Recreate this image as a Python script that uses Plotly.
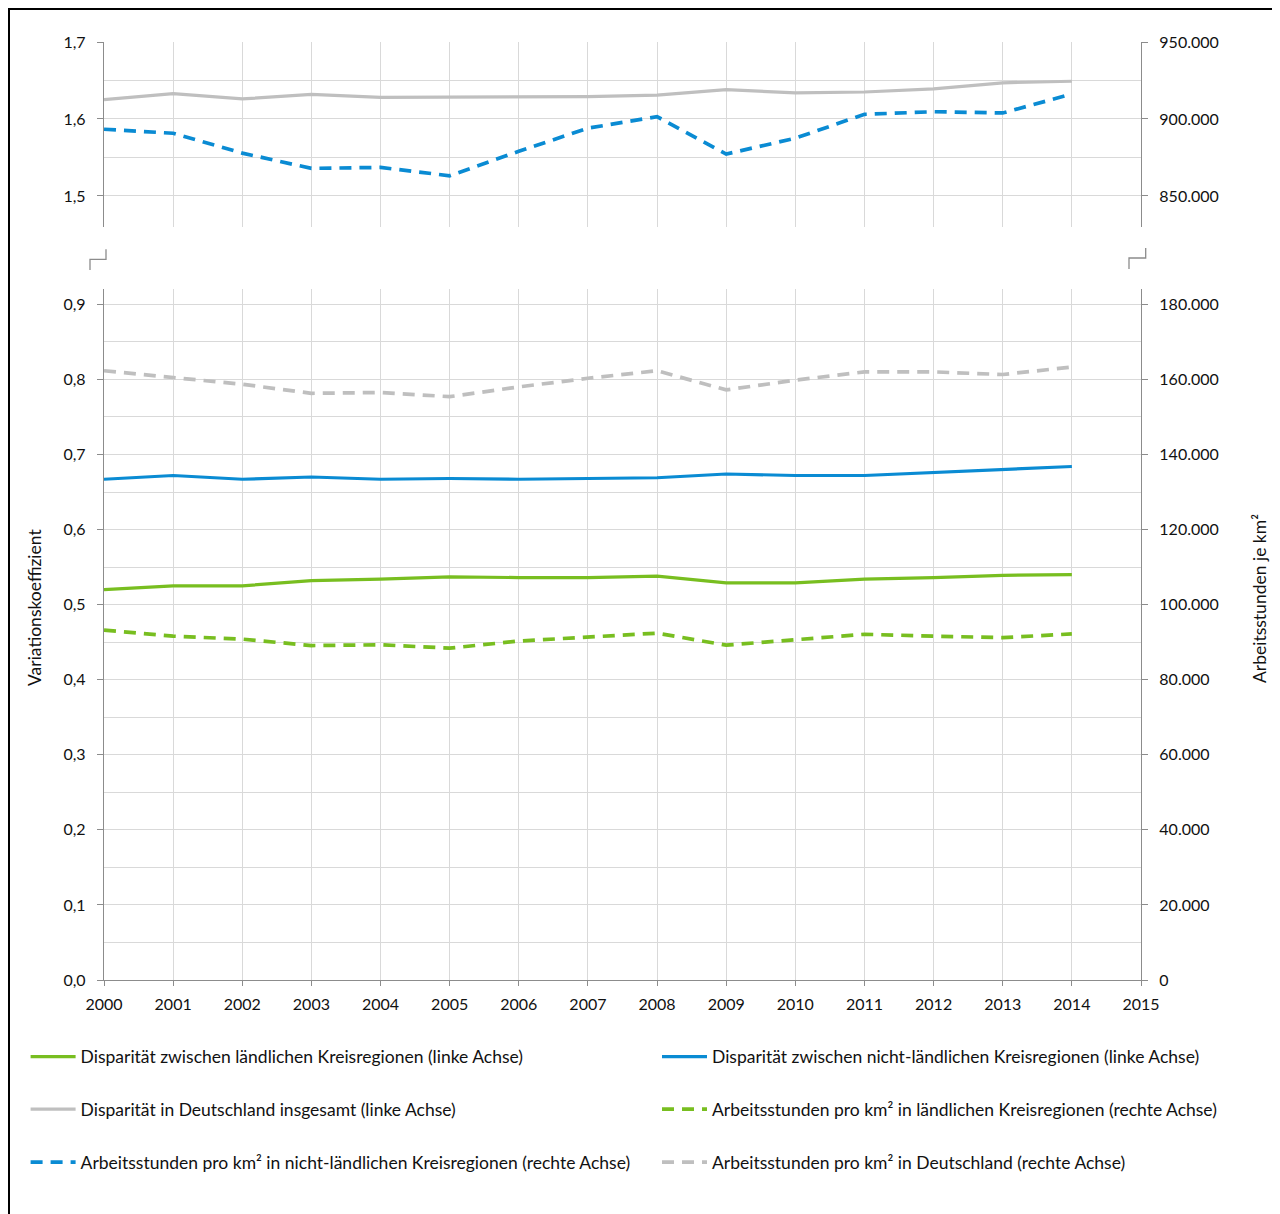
import plotly.graph_objects as go

# ---------------- data ----------------
years = [2000, 2001, 2002, 2003, 2004, 2005, 2006, 2007, 2008, 2009, 2010, 2011, 2012, 2013, 2014]

# left axis (Variationskoeffizient)
disp_laendlich = [0.520, 0.525, 0.525, 0.532, 0.534, 0.537, 0.536, 0.536, 0.538, 0.529, 0.529, 0.534, 0.536, 0.539, 0.540]
disp_nicht_laendlich = [0.667, 0.672, 0.667, 0.670, 0.667, 0.668, 0.667, 0.668, 0.669, 0.674, 0.672, 0.672, 0.676, 0.681, 0.684]
disp_deutschland = [1.625, 1.633, 1.626, 1.632, 1.628, 1.628, 1.628, 1.629, 1.631, 1.638, 1.634, 1.635, 1.639, 1.647, 1.649]

# right axis (Arbeitsstunden je km²)
std_laendlich = [93200, 91600, 90800, 89100, 89300, 88400, 90300, 91400, 92400, 89200, 90700, 92100, 91600, 91200, 92200]
std_nicht_laendlich = [893300, 890700, 877800, 867900, 868500, 863100, 879000, 894000, 901500, 877200, 887500, 903000, 904700, 903900, 916200]
std_deutschland = [162300, 160400, 158700, 156300, 156500, 155400, 158000, 160300, 162300, 157200, 159800, 162000, 162000, 161300, 163300]

names = [
    "Disparität zwischen ländlichen Kreisregionen (linke Achse)",
    "Disparität zwischen nicht-ländlichen Kreisregionen (linke Achse)",
    "Disparität in Deutschland insgesamt (linke Achse)",
    "Arbeitsstunden pro km² in ländlichen Kreisregionen (rechte Achse)",
    "Arbeitsstunden pro km² in nicht-ländlichen Kreisregionen (rechte Achse)",
    "Arbeitsstunden pro km² in Deutschland (rechte Achse)",
]

left_title = "Variationskoeffizient"
right_title = "Arbeitsstunden je km²"

# ---------------- layout geometry (page pixels) ----------------
OFF = 8                      # default body margin of the page
W, H = 1280 - OFF, 1214 - OFF
PL, PR, PT, PB = 104, 1141, 42, 980      # plot area in page pixels
ML, MR, MT, MB = PL - OFF, 1280 - PR, PT - OFF, 1214 - PB
PW = PR - PL
PH = PB - PT

GREEN = "#78BE20"
BLUE = "#0A8BD3"
GRAY = "#BFBFBF"
GRID = "#D9D9D9"
AXIS = "#8C8C8C"
TXT = "#111111"
FONT = "Lato, Calibri, Carlito, sans-serif"
DASH = "12px,8px"
TICKSIZE = 16
TEXTSIZE = 17.5


def px_x(x):
    return (x - PL) / PW


def px_y(y):
    return (PB - y) / PH


def cx(x):
    return (x - OFF) / W


def cy(y):
    return 1 - (y - OFF) / H


top_dom = [px_y(226.7), 1.0]
bot_dom = [0.0, px_y(289.3)]

fig = go.Figure()

fig.add_trace(go.Scatter(x=years, y=disp_laendlich, name=names[0], mode="lines",
                         line=dict(color=GREEN, width=3.2), xaxis="x", yaxis="y", legend="legend"))
fig.add_trace(go.Scatter(x=years, y=disp_nicht_laendlich, name=names[1], mode="lines",
                         line=dict(color=BLUE, width=3.2), xaxis="x", yaxis="y", legend="legend2"))
fig.add_trace(go.Scatter(x=years, y=disp_deutschland, name=names[2], mode="lines",
                         line=dict(color=GRAY, width=3.2), xaxis="x2", yaxis="y3", legend="legend3"))
fig.add_trace(go.Scatter(x=years, y=std_laendlich, name=names[3], mode="lines",
                         line=dict(color=GREEN, width=3.7, dash=DASH), xaxis="x", yaxis="y2", legend="legend4"))
fig.add_trace(go.Scatter(x=years, y=std_nicht_laendlich, name=names[4], mode="lines",
                         line=dict(color=BLUE, width=3.7, dash=DASH), xaxis="x2", yaxis="y4", legend="legend5"))
fig.add_trace(go.Scatter(x=years, y=std_deutschland, name=names[5], mode="lines",
                         line=dict(color=GRAY, width=3.7, dash=DASH), xaxis="x", yaxis="y2", legend="legend6"))

common_y = dict(showline=True, linecolor=AXIS, linewidth=1.3, ticks="outside", ticklen=6,
                tickcolor=AXIS, tickwidth=1.3, zeroline=False, ticklabelstandoff=8,
                tickfont=dict(family=FONT, size=TICKSIZE, color=TXT))


def leg(page_x, page_y):
    return dict(orientation="h", xref="container", yref="container", xanchor="left",
                yanchor="middle", x=cx(page_x), y=cy(page_y), itemwidth=45,
                bgcolor="rgba(0,0,0,0)", font=dict(family=FONT, size=TEXTSIZE, color=TXT))


COL1, COL2 = 25.6, 657
ROWS = [1056.7, 1109.3, 1162.3]

fig.update_layout(
    width=W, height=H,
    margin=dict(l=ML, r=MR, t=MT, b=MB, autoexpand=False),
    paper_bgcolor="white", plot_bgcolor="white",
    separators=",.",
    font=dict(family=FONT, size=TEXTSIZE, color=TXT),
    showlegend=True,
    xaxis=dict(domain=[0, 1], anchor="y", range=[2000, 2015], dtick=1, tick0=2000, tickformat="d",
               showgrid=True, gridcolor=GRID, gridwidth=1, showline=True, linecolor=AXIS,
               linewidth=1.3, ticks="outside", ticklen=5, tickcolor=AXIS, tickwidth=1.3,
               ticklabelstandoff=5, zeroline=False,
               tickfont=dict(family=FONT, size=TICKSIZE, color=TXT)),
    xaxis2=dict(domain=[0, 1], anchor="y3", range=[2000, 2015], dtick=1, tick0=2000,
                showgrid=True, gridcolor=GRID, gridwidth=1, showline=False, ticks="",
                showticklabels=False, zeroline=False, matches="x"),
    yaxis=dict(domain=bot_dom, anchor="x", range=[0, 0.92], dtick=0.1, tick0=0, tickformat=".1f",
               showgrid=True, gridcolor=GRID,
               minor=dict(dtick=0.05, tick0=0, showgrid=True, gridcolor=GRID, ticks=""),
               **common_y),
    yaxis2=dict(overlaying="y", side="right", anchor="x", range=[0, 184000], dtick=20000, tick0=0,
                tickformat=",d", showgrid=False, **common_y),
    yaxis3=dict(domain=top_dom, anchor="x2", range=[1.46, 1.7], dtick=0.1, tick0=1.5, tickformat=".1f",
                showgrid=True, gridcolor=GRID,
                minor=dict(dtick=0.05, tick0=1.5, showgrid=True, gridcolor=GRID, ticks=""),
                **common_y),
    yaxis4=dict(overlaying="y3", side="right", anchor="x2", range=[830000, 950000], dtick=50000,
                tick0=850000, tickformat=",d", showgrid=False, **common_y),
    legend=leg(COL1, ROWS[0]),
    legend2=leg(COL2, ROWS[0]),
    legend3=leg(COL1, ROWS[1]),
    legend4=leg(COL2, ROWS[1]),
    legend5=leg(COL1, ROWS[2]),
    legend6=leg(COL2, ROWS[2]),
)

# axis titles
fig.add_annotation(text=left_title, xref="paper", yref="paper", x=px_x(34), y=px_y(608),
                   textangle=-90, showarrow=False, xanchor="center", yanchor="middle",
                   font=dict(family=FONT, size=TEXTSIZE, color=TXT))
fig.add_annotation(text=right_title, xref="paper", yref="paper", x=px_x(1260), y=px_y(599),
                   textangle=-90, showarrow=False, xanchor="center", yanchor="middle",
                   font=dict(family=FONT, size=TEXTSIZE, color=TXT))


# axis-break markers
def step_path(xa, xb, ya, yb, yc):
    return (f"M {px_x(xa)} {px_y(ya)} L {px_x(xa)} {px_y(yb)} "
            f"L {px_x(xb)} {px_y(yb)} L {px_x(xb)} {px_y(yc)}")


fig.add_shape(type="path", xref="paper", yref="paper", path=step_path(90, 106, 270, 259.3, 249.3),
              line=dict(color=AXIS, width=1.3))
fig.add_shape(type="path", xref="paper", yref="paper", path=step_path(1129, 1145.7, 269, 258, 248),
              line=dict(color=AXIS, width=1.3))

# outer frame (only the left and top edges are visible in the reference)
fig.add_shape(type="line", xref="paper", yref="paper", x0=px_x(9), x1=px_x(9),
              y0=px_y(1240), y1=px_y(8), line=dict(color="black", width=2))
fig.add_shape(type="line", xref="paper", yref="paper", x0=px_x(8), x1=px_x(1300),
              y0=px_y(9), y1=px_y(9), line=dict(color="black", width=2))

fig.write_html("out.html")
